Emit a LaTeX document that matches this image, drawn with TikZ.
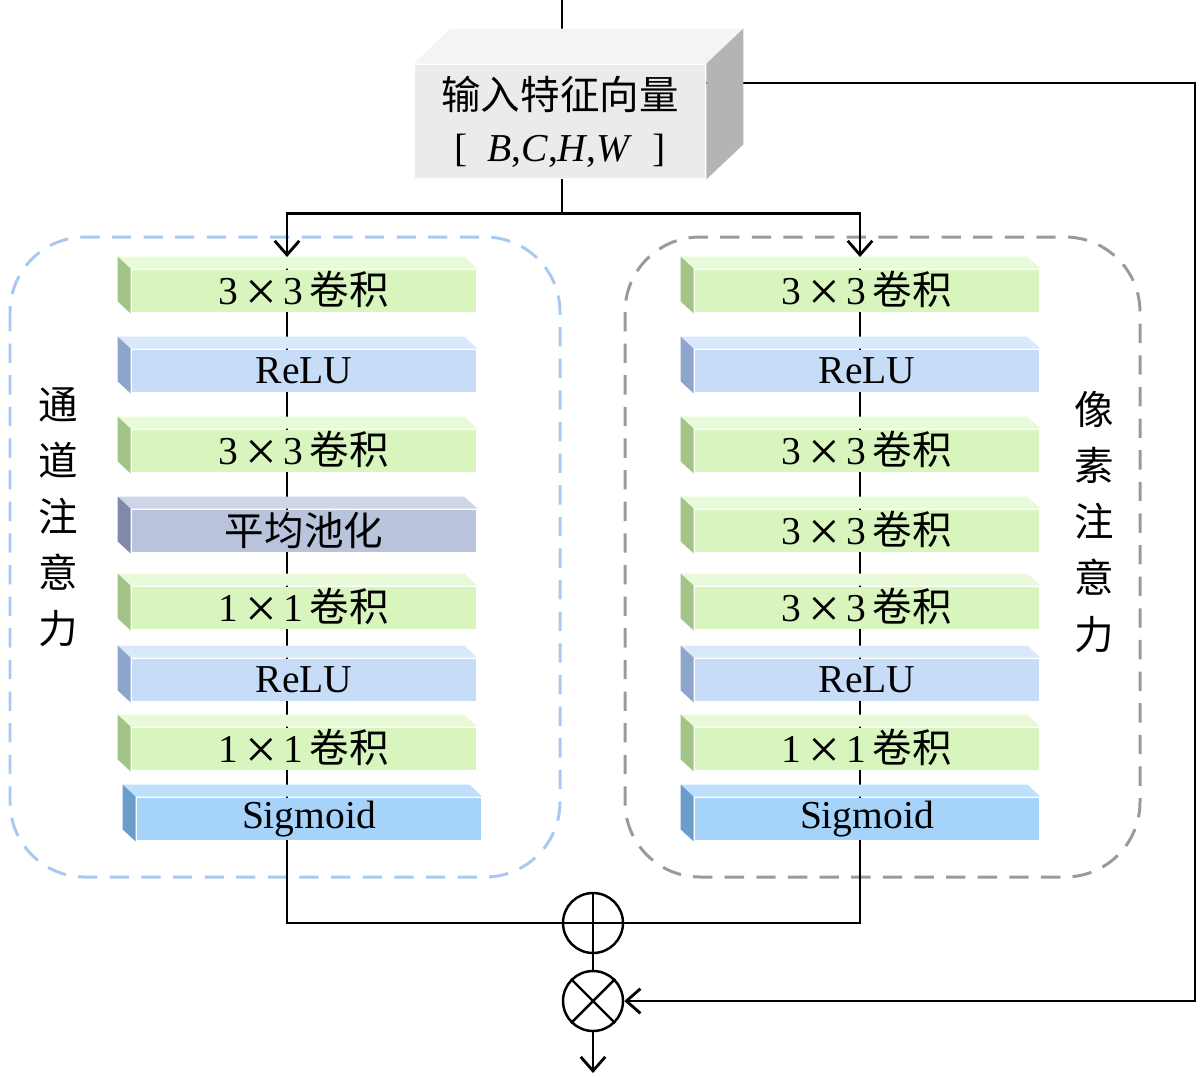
\documentclass[tikz,border=0pt]{standalone}
\usepackage{fontspec}
\setmainfont{Liberation Serif}
\newfontfamily\cjk{Noto Sans CJK SC}
\usetikzlibrary{arrows.meta,backgrounds}

\definecolor{convF}{HTML}{D8F5BD}
\definecolor{convT}{HTML}{E8FAD8}
\definecolor{convS}{HTML}{A3C487}
\definecolor{reluF}{HTML}{C6DCF7}
\definecolor{reluT}{HTML}{DAE8FB}
\definecolor{reluS}{HTML}{8DA4CC}
\definecolor{poolF}{HTML}{B9C4DC}
\definecolor{poolT}{HTML}{CDD5E8}
\definecolor{poolS}{HTML}{7E8AA8}
\definecolor{sigF}{HTML}{A5D3FA}
\definecolor{sigT}{HTML}{BEE0FC}
\definecolor{sigS}{HTML}{6B9DCA}
\definecolor{featF}{HTML}{EBEBEB}
\definecolor{featT}{HTML}{F4F4F4}
\definecolor{featS}{HTML}{B4B4B4}
\definecolor{chanline}{HTML}{A9C9F3}
\definecolor{pixline}{HTML}{9A9A9A}

\newcommand{\bigtimes}{\,\raisebox{-3.5pt}{\fontsize{32}{32}\selectfont ×}\,}

\begin{document}
\begin{tikzpicture}[x=0.02cm, y=-0.02cm, line width=1.6pt,
    >={Straight Barb[length=8pt,width=14pt]},
    slab/.style={minimum width=6.88cm, minimum height=0.84cm, inner sep=0pt,
      font=\fontsize{22.5}{26}\selectfont},
    conv/.style={slab, fill=convF},
    relu/.style={slab, fill=reluF},
    pool/.style={slab, fill=poolF},
    sig/.style={slab, fill=sigF},
    sidelabel/.style={align=center, font=\fontsize{22.5}{31.9}\selectfont\cjk},
    op/.style={circle, draw, line width=1.4pt, minimum size=1.2cm, inner sep=0pt},
    frame/.style={line width=1.7pt, dash pattern=on 11pt off 7pt, rounded corners=1.5cm}]
  \useasboundingbox (0,0) rectangle (1200,1076);

  % input feature
  \node[fill=featF, minimum width=5.8cm, minimum height=2.26cm, inner sep=0pt, align=center,
    font=\fontsize{22.5}{29.6}\selectfont] (feat) at (560,121.5)
    {{\cjk 输入特征向量}\\{[}\enspace\textit{B},\textit{C},\textit{H},\textit{W}\enspace{]}};
  \fill[featT] (feat.north west) -- ++(37,-35) -- ([shift={(37,-35)}]feat.north east) -- (feat.north east) -- cycle;
  \fill[featS] (feat.north east) -- ++(37,-35) -- ([shift={(37,-35)}]feat.south east) -- (feat.south east) -- cycle;

  % channel attention
  \node[conv] (cl1) at (304,291) {3\bigtimes3\,{\cjk 卷积}};
  \node[relu] (cl2) at (304,371) {ReLU};
  \node[conv] (cl3) at (304,451) {3\bigtimes3\,{\cjk 卷积}};
  \node[pool] (cl4) at (304,531) {\cjk 平均池化};
  \node[conv] (cl5) at (304,608) {1\bigtimes1\,{\cjk 卷积}};
  \node[relu] (cl6) at (304,680) {ReLU};
  \node[conv] (cl7) at (304,749) {1\bigtimes1\,{\cjk 卷积}};
  \node[sig]  (cl8) at (309,819) {Sigmoid};
  \node[sidelabel] (cname) at (58,517) {通\\道\\注\\意\\力};

  % pixel attention
  \node[conv] (pl1) at (867,291) {3\bigtimes3\,{\cjk 卷积}};
  \node[relu] (pl2) at (867,371) {ReLU};
  \node[conv] (pl3) at (867,451) {3\bigtimes3\,{\cjk 卷积}};
  \node[conv] (pl4) at (867,531) {3\bigtimes3\,{\cjk 卷积}};
  \node[conv] (pl5) at (867,608) {3\bigtimes3\,{\cjk 卷积}};
  \node[relu] (pl6) at (867,680) {ReLU};
  \node[conv] (pl7) at (867,749) {1\bigtimes1\,{\cjk 卷积}};
  \node[sig]  (pl8) at (867,819) {Sigmoid};
  \node[sidelabel] (pname) at (1094,522) {像\\素\\注\\意\\力};

  \foreach \n/\col in {cl1/conv, cl2/relu, cl3/conv, cl4/pool, cl5/conv, cl6/relu, cl7/conv, cl8/sig,
                       pl1/conv, pl2/relu, pl3/conv, pl4/conv, pl5/conv, pl6/relu, pl7/conv, pl8/sig} {
    \fill[\col T] (\n.north west) -- ++(-13,-12) -- ([shift={(-13,-12)}]\n.north east) -- (\n.north east) -- cycle;
    \fill[\col S] (\n.north west) -- ++(-13,-12) -- ([shift={(-13,-12)}]\n.south west) -- (\n.south west) -- cycle;
  }

  % fusion
  \node[op] (sum) at (593,923) {};
  \node[op] (prod) at (593,1001) {};
  \draw[line width=1.4pt] (sum.north) -- (sum.south) (sum.west) -- (sum.east);
  \draw[line width=1.4pt] (prod.north west) -- (prod.south east) (prod.north east) -- (prod.south west);

  \coordinate (src) at (562,0);
  \coordinate (lin) at (287,257);
  \coordinate (rin) at (860,257);
  \coordinate (fb) at (1195,83);
  \coordinate (out) at (593,1073);

  \draw[->] (feat.south -| src) -- ++(0,34) coordinate (split) -| (lin);
  \draw[->] (split) -| (rin);

  \begin{scope}[on background layer={line width=1.6pt}]
    \draw[frame, chanline] (10,237) rectangle (560,877);
    \draw[frame, pixline] (625,237) rectangle (1140,877);
    \draw (src) -- ++(0,32);
    \draw (lin) -- (lin |- sum) -- (sum);
    \draw (rin) -- (rin |- sum) -- (sum);
    \draw[->] (feat.east |- fb) -- (fb) |- (prod);
    \draw (sum) -- (prod);
    \draw[->] (prod) -- (out);
  \end{scope}
\end{tikzpicture}
\end{document}
